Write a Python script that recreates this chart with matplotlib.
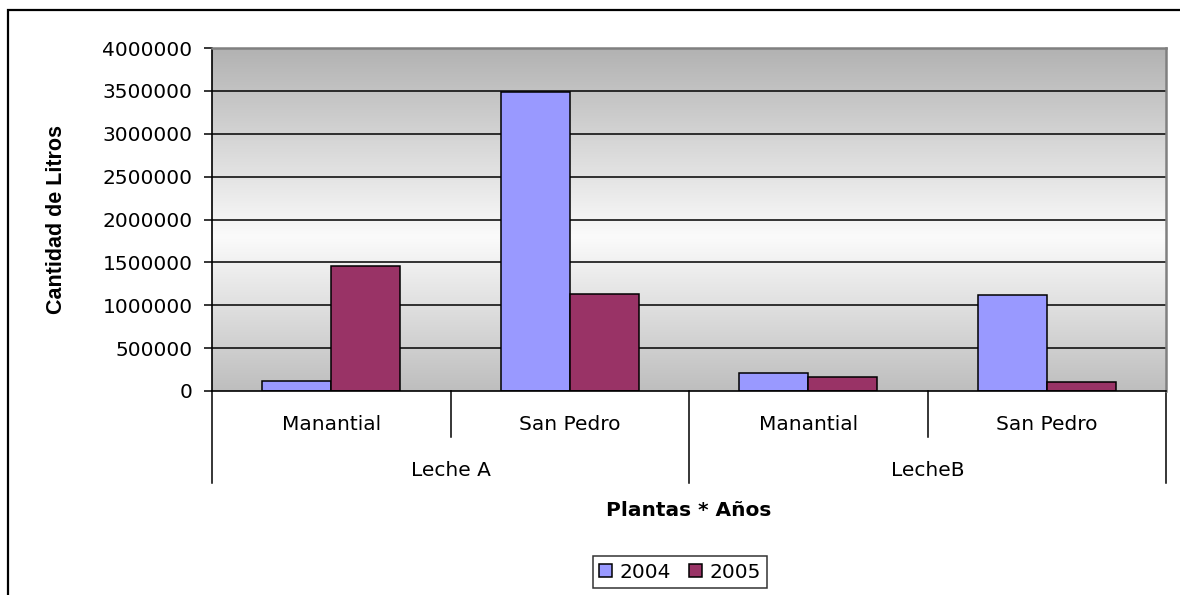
import numpy as np
import matplotlib.pyplot as plt
from matplotlib.patches import Rectangle
from matplotlib.colors import LinearSegmentedColormap

# reference text is Arial stretched wide; DejaVu Sans is the closest wide face
plt.rcParams['font.family'] = ['DejaVu Sans']

# data
groups = ["Leche A", "LecheB"]
plants = ["Manantial", "San Pedro", "Manantial", "San Pedro"]
years = ["2004", "2005"]
litros_2004 = [120000, 3490000, 215000, 1125000]
litros_2005 = [1460000, 1130000, 165000, 100000]
yticks = [0, 500000, 1000000, 1500000, 2000000, 2500000, 3000000, 3500000, 4000000]

colors = {"2004": "#9999FF", "2005": "#993366"}
fs = 14.5

W, H = 1180, 595
fig = plt.figure(figsize=(W / 100, H / 100), dpi=100)
left, right, top, bottom = 212, 1166, 48, 391
ax = fig.add_axes([left / W, 1 - bottom / H, (right - left) / W, (bottom - top) / H])

# outer chart border (cut off on the right and bottom like the original)
fig.patches.append(Rectangle((8 / W, -0.1), 1.2, 1.1 - 10 / H, transform=fig.transFigure,
                             fill=False, edgecolor="black", linewidth=1.6))

# gray-white-gray gradient of the plot area
grad = LinearSegmentedColormap.from_list(
    "bg", [(0.0, "#b2b2b2"), (0.55, "#fbfbfb"), (1.0, "#bebebe")])
ax.imshow(np.linspace(0, 1, 256).reshape(-1, 1), cmap=grad, aspect="auto",
          extent=[0, 4, 0, 4000000], zorder=0, interpolation="bicubic")

for t in yticks[1:-1]:
    ax.axhline(t, color="black", linewidth=1.1, zorder=1)

x = np.arange(len(plants)) + 0.5
bw = 0.29
ax.bar(x - bw / 2, litros_2004, bw, color=colors["2004"], edgecolor="black",
       linewidth=1.1, zorder=2, label=years[0])
ax.bar(x + bw / 2, litros_2005, bw, color=colors["2005"], edgecolor="black",
       linewidth=1.1, zorder=2, label=years[1])

ax.set_xlim(0, 4)
ax.set_ylim(0, 4000000)
ax.set_yticks(yticks)
ax.set_yticklabels([str(t) for t in yticks], fontsize=fs)
ax.tick_params(axis="y", length=6, width=1.1, pad=8, direction="out")
ax.set_xticks([])

for s in ["left", "bottom"]:
    ax.spines[s].set_color("black")
    ax.spines[s].set_linewidth(1.2)
for s in ["top", "right"]:
    ax.spines[s].set_color("#808080")
    ax.spines[s].set_linewidth(1.8)

# multi-level category axis
hpx = bottom - top
tr = ax.get_xaxis_transform()
for i in range(len(plants) + 1):
    y_end = -92 / hpx if i % 2 == 0 else -46 / hpx
    ax.plot([i, i], [0, y_end], color="black", linewidth=1.1, transform=tr, clip_on=False)
for i, p in enumerate(plants):
    ax.text(i + 0.5, -33 / hpx, p, transform=tr, ha="center", va="center", fontsize=fs)
for j, g in enumerate(groups):
    ax.text(2 * j + 1, -79 / hpx, g, transform=tr, ha="center", va="center", fontsize=fs)

fig.text((left + right) / 2 / W, 1 - 510 / H, "Plantas * Años", ha="center", va="center",
         fontsize=fs, fontweight="bold")
fig.text(57 / W, 1 - ((top + bottom) / 2) / H, "Cantidad de Litros", rotation=90,
         ha="center", va="center", fontsize=15.5,
         family=["Liberation Sans Narrow", "DejaVu Sans Condensed", "Liberation Sans"],
         fontweight="bold", fontstretch="condensed")

leg = fig.legend(loc="center", bbox_to_anchor=(680 / W, 1 - 572 / H), ncol=2, fontsize=fs,
                 frameon=True, fancybox=False, edgecolor="black", handlelength=0.65,
                 handleheight=0.65, handletextpad=0.35, columnspacing=0.9, borderpad=0.3,
                 borderaxespad=0.0)
leg.get_frame().set_linewidth(1.1)

fig.savefig("out.png", dpi=100)
